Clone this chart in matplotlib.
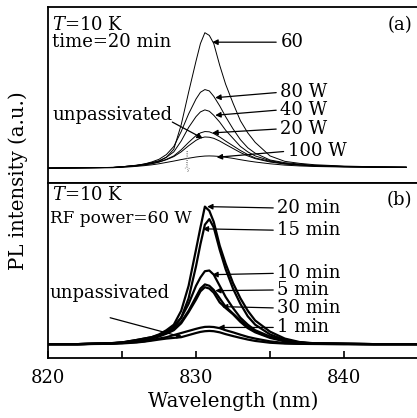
import matplotlib
matplotlib.use("Agg")
import matplotlib.pyplot as plt

plt.rcParams["font.family"] = ["DejaVu Serif"]
plt.rcParams["mathtext.fontset"] = "dejavuserif"

# ---------------------------------------------------------------------------
# (a) T=10 K, time=20 min, different RF powers
# ---------------------------------------------------------------------------
wl_a = [820, 824.4, 825, 825.5, 826, 826.5, 827, 827.5, 828, 828.5, 829, 829.5,
        830, 830.3, 830.6, 830.9, 831.2, 831.6, 832, 832.5, 833, 833.5, 834,
        835, 836, 837, 838, 840, 842, 844.2]
pl_60w = [0, 0.005, 0.01, 0.015, 0.02, 0.03, 0.04, 0.05, 0.08, 0.14, 0.32, 0.56,
          0.79, 0.92, 1.0, 0.98, 0.92, 0.76, 0.62, 0.48, 0.35, 0.26, 0.19,
          0.09, 0.05, 0.035, 0.025, 0.015, 0.01, 0.008]
pl_80w = [0, 0.005, 0.01, 0.015, 0.022, 0.03, 0.045, 0.065, 0.10, 0.16, 0.27, 0.40,
          0.51, 0.56, 0.58, 0.57, 0.53, 0.46, 0.38, 0.29, 0.21, 0.15, 0.11,
          0.06, 0.04, 0.03, 0.02, 0.012, 0.008, 0.006]
pl_40w = [0, 0.005, 0.01, 0.015, 0.02, 0.028, 0.04, 0.055, 0.08, 0.12, 0.20, 0.30,
          0.38, 0.415, 0.43, 0.42, 0.39, 0.34, 0.28, 0.22, 0.16, 0.12, 0.09,
          0.055, 0.035, 0.025, 0.018, 0.012, 0.008, 0.006]
pl_20w = [0, 0.005, 0.01, 0.014, 0.018, 0.024, 0.033, 0.045, 0.065, 0.09, 0.135, 0.19,
          0.24, 0.26, 0.27, 0.268, 0.255, 0.23, 0.20, 0.165, 0.13, 0.10, 0.075,
          0.05, 0.032, 0.023, 0.017, 0.011, 0.008, 0.006]
pl_unp_a = [0, 0.004, 0.008, 0.012, 0.017, 0.023, 0.032, 0.045, 0.062, 0.085, 0.12, 0.165,
            0.205, 0.222, 0.23, 0.228, 0.22, 0.20, 0.175, 0.145, 0.115, 0.09, 0.07,
            0.045, 0.03, 0.022, 0.016, 0.01, 0.007, 0.005]
pl_100w = [0, 0.003, 0.006, 0.009, 0.013, 0.018, 0.024, 0.032, 0.042, 0.052, 0.063, 0.073,
           0.082, 0.086, 0.089, 0.09, 0.089, 0.086, 0.08, 0.072, 0.062, 0.053, 0.045,
           0.032, 0.022, 0.016, 0.012, 0.008, 0.006, 0.005]
spike_wl = [829.25, 829.35, 829.4, 829.45, 829.55]
spike_pl = [0.0, 0.0, 0.13, -0.03, 0.0]

curves_a = [("60", pl_60w), ("80 W", pl_80w), ("40 W", pl_40w),
            ("20 W", pl_20w), ("unpassivated", pl_unp_a), ("100 W", pl_100w)]

# ---------------------------------------------------------------------------
# (b) T=10 K, RF power=60 W, different passivation times
# ---------------------------------------------------------------------------
wl_b = [820, 822, 824, 825, 826, 826.5, 827, 827.5, 828, 828.5, 829, 829.5, 830,
        830.3, 830.6, 830.9, 831.2, 831.6, 832, 832.5, 833, 833.5, 834, 835, 836,
        837, 838, 840, 842, 845]
pl_20min = [0, 0, 0.005, 0.012, 0.03, 0.04, 0.05, 0.07, 0.10, 0.14, 0.24, 0.42, 0.68,
            0.84, 0.99, 0.96, 0.88, 0.71, 0.58, 0.44, 0.33, 0.24, 0.17, 0.09, 0.04,
            0.015, 0.006, 0.003, 0, 0]
pl_15min = [0, 0, 0.005, 0.01, 0.025, 0.035, 0.045, 0.06, 0.085, 0.12, 0.19, 0.33, 0.56,
            0.72, 0.86, 0.90, 0.84, 0.68, 0.54, 0.40, 0.29, 0.20, 0.14, 0.07, 0.03,
            0.012, 0.005, 0.002, 0, 0]
pl_10min = [0, 0, 0.005, 0.012, 0.03, 0.04, 0.05, 0.065, 0.09, 0.13, 0.19, 0.29, 0.42,
            0.48, 0.525, 0.53, 0.50, 0.42, 0.34, 0.26, 0.19, 0.14, 0.10, 0.055, 0.025,
            0.01, 0.004, 0.002, 0, 0]
pl_5min = [0, 0, 0.004, 0.01, 0.025, 0.033, 0.045, 0.06, 0.08, 0.11, 0.16, 0.24, 0.34,
           0.40, 0.43, 0.42, 0.39, 0.33, 0.27, 0.22, 0.17, 0.125, 0.09, 0.05, 0.022,
           0.01, 0.004, 0.002, 0, 0]
pl_30min = [0, 0, 0.004, 0.01, 0.022, 0.03, 0.04, 0.055, 0.075, 0.10, 0.15, 0.23, 0.32,
            0.38, 0.41, 0.40, 0.37, 0.30, 0.26, 0.215, 0.16, 0.115, 0.085, 0.045, 0.02,
            0.01, 0.004, 0.002, 0, 0]
pl_1min = [0, 0, 0.003, 0.008, 0.015, 0.02, 0.03, 0.04, 0.05, 0.065, 0.08, 0.095, 0.11,
           0.118, 0.124, 0.125, 0.123, 0.115, 0.10, 0.085, 0.068, 0.052, 0.04, 0.02,
           0.008, 0.003, 0.002, 0, 0, 0]
pl_unp_b = [0, 0, 0.002, 0.005, 0.012, 0.018, 0.025, 0.033, 0.04, 0.045, 0.05, 0.065,
            0.08, 0.088, 0.093, 0.095, 0.093, 0.085, 0.072, 0.058, 0.045, 0.033, 0.023,
            0.01, 0.004, 0.002, 0.001, 0, 0, 0]

curves_b = [pl_20min, pl_15min, pl_10min, pl_5min, pl_30min, pl_1min, pl_unp_b]

# label, arrow tip (wl, I), text position (wl, I)
notes_a = [("60", (831.1, 0.93), (835.7, 0.93)),
           ("80 W", (831.3, 0.52), (835.7, 0.56)),
           ("40 W", (831.3, 0.39), (835.7, 0.43)),
           ("20 W", (831.1, 0.26), (835.7, 0.29)),
           ("100 W", (831.4, 0.08), (836.2, 0.125))]
notes_b = [("20 min", (830.75, 0.99), (835.5, 0.98)),
           ("15 min", (830.45, 0.83), (835.5, 0.82)),
           ("10 min", (831.1, 0.50), (835.5, 0.51)),
           ("5 min", (831.3, 0.385), (835.5, 0.39)),
           ("30 min", (831.75, 0.27), (835.5, 0.26)),
           ("1 min", (831.5, 0.12), (835.5, 0.12))]

FS = 13
FS_LABEL = 14.2
fig = plt.figure(figsize=(4.17, 4.18), dpi=100)
ax_a = fig.add_axes([0.1151, 0.5622, 0.8873, 0.4211])
ax_b = fig.add_axes([0.1151, 0.1435, 0.8873, 0.4187])

for lab, y in curves_a:
    ax_a.plot(wl_a, y, color="k", lw=0.7)
ax_a.plot(spike_wl, spike_pl, color="0.45", lw=0.6, ls=":")

for y in curves_b:
    ax_b.plot(wl_b, y, color="k", lw=1.6)

arrow = dict(arrowstyle="-|>", color="k", lw=0.9, mutation_scale=8,
             shrinkA=1, shrinkB=0, relpos=(0, 0.5))
for ax, notes in ((ax_a, notes_a), (ax_b, notes_b)):
    for lab, tip, txt in notes:
        ax.annotate(lab, xy=tip, xytext=txt, ha="left", va="center",
                    fontsize=FS, arrowprops=arrow)

# unpassivated labels with separate arrows
ax_a.text(820.3, 0.39, "unpassivated", ha="left", va="center", fontsize=FS)
ax_a.annotate("", xy=(830.45, 0.22), xytext=(828.4, 0.34),
              arrowprops=dict(arrowstyle="-|>", color="k", lw=0.9,
                              mutation_scale=8, shrinkA=0, shrinkB=0))
ax_b.text(820.1, 0.37, "unpassivated", ha="left", va="center", fontsize=FS)
ax_b.annotate("", xy=(829.1, 0.05), xytext=(824.2, 0.19),
              arrowprops=dict(arrowstyle="-|>", color="k", lw=0.9,
                              mutation_scale=8, shrinkA=0, shrinkB=0))

ax_a.text(0.012, 0.898, "$T$=10 K", transform=ax_a.transAxes, fontsize=FS,
          ha="left", va="center")
ax_a.text(0.012, 0.80, "time=20 min", transform=ax_a.transAxes, fontsize=FS,
          ha="left", va="center")
ax_a.text(0.985, 0.898, "(a)", transform=ax_a.transAxes, fontsize=FS,
          ha="right", va="center")
ax_b.text(0.012, 0.93, "$T$=10 K", transform=ax_b.transAxes, fontsize=FS,
          ha="left", va="center")
ax_b.text(0.006, 0.80, "RF power=60 W", transform=ax_b.transAxes, fontsize=12.2,
          ha="left", va="center")
ax_b.text(0.985, 0.90, "(b)", transform=ax_b.transAxes, fontsize=FS,
          ha="right", va="center")

ax_a.set_xlim(820, 845)
ax_a.set_ylim(-0.11, 1.19)
ax_b.set_xlim(820, 845)
ax_b.set_ylim(-0.10, 1.16)

for ax in (ax_a, ax_b):
    for s in ax.spines.values():
        s.set_linewidth(1.3)
    ax.set_yticks([])

ax_a.set_xticks([])
ax_b.set_xticks([820, 830, 840])
ax_b.set_xticks([825, 835], minor=True)
ax_b.tick_params(axis="x", which="both", direction="in", length=5, width=1.2,
                 labelsize=FS, pad=8, top=False)
ax_b.set_xlabel("Wavelength (nm)", fontsize=FS_LABEL, labelpad=3)
fig.text(0.043, 0.569, "PL intensity (a.u.)", rotation=90, fontsize=FS_LABEL,
         ha="center", va="center")

fig.savefig("out.png", dpi=100)
